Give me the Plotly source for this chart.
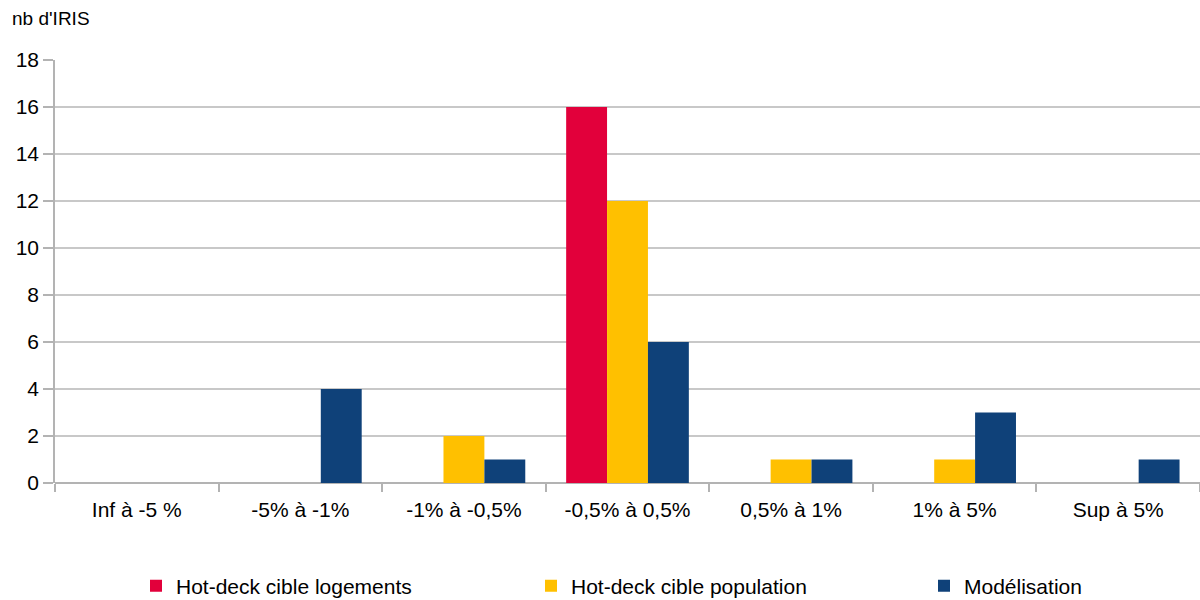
import plotly.graph_objects as go

categories = ["Inf à -5 %", "-5% à -1%", "-1% à -0,5%", "-0,5% à 0,5%", "0,5% à 1%", "1% à 5%", "Sup à 5%"]
logements = [0, 0, 0, 16, 0, 0, 0]
population = [0, 0, 2, 12, 1, 1, 0]
modelisation = [0, 4, 1, 6, 1, 3, 1]
y_ticks = [0, 2, 4, 6, 8, 10, 12, 14, 16, 18]

font_family = "Liberation Sans, Arial, sans-serif"
FS = 21

fig = go.Figure()
fig.add_trace(go.Bar(x=categories, y=logements, name="Hot-deck cible logements",
                     marker=dict(color="#e2003b", line=dict(width=0)), legend="legend"))
fig.add_trace(go.Bar(x=categories, y=population, name="Hot-deck cible population",
                     marker=dict(color="#ffc000", line=dict(width=0)), legend="legend2"))
fig.add_trace(go.Bar(x=categories, y=modelisation, name="Modélisation",
                     marker=dict(color="#0f4179", line=dict(width=0)), legend="legend3"))

def leg(xpx):
    return dict(orientation="h", x=xpx / 1200, xref="container", xanchor="left",
                y=1 - 586 / 600, yref="container", yanchor="middle",
                font=dict(family=font_family, size=FS, color="#000000"),
                itemclick=False, itemdoubleclick=False, bgcolor="rgba(0,0,0,0)")

fig.update_layout(
    width=1200, height=600,
    margin=dict(l=55, r=0, t=60, b=117),
    paper_bgcolor="white", plot_bgcolor="white",
    barmode="group", bargap=0.25, bargroupgap=0,
    font=dict(family=font_family, size=FS, color="#000000"),
    showlegend=True,
    legend=leg(136), legend2=leg(531), legend3=leg(924),
    xaxis=dict(
        type="category", range=[-0.5, 6.5],
        showgrid=False, tickson="boundaries", ticks="outside", ticklen=8,
        tickcolor="#b3b3b3", tickwidth=1.5,
        showline=False, zeroline=False,
        tickfont=dict(family=font_family, size=FS, color="#000000"),
        ticklabelstandoff=12,
    ),
    yaxis=dict(
        range=[0, 18], tickvals=y_ticks, ticktext=[str(v) for v in y_ticks],
        showgrid=True, gridcolor="#c8c8c8", gridwidth=1.5,
        ticks="outside", ticklen=10, tickcolor="#b3b3b3", tickwidth=1.5,
        showline=True, linecolor="#b3b3b3", linewidth=1.5,
        zeroline=True, zerolinecolor="#b3b3b3", zerolinewidth=1.5,
        tickfont=dict(family=font_family, size=FS, color="#000000"),
        ticklabelstandoff=0,
    ),
    annotations=[dict(text="nb d'IRIS", xref="paper", yref="paper",
                      x=(10 - 55) / 1145, y=(483 - 18) / 423,
                      xanchor="left", yanchor="middle", showarrow=False,
                      font=dict(family=font_family, size=19, color="#000000"))],
)

fig.write_html("out.html")
